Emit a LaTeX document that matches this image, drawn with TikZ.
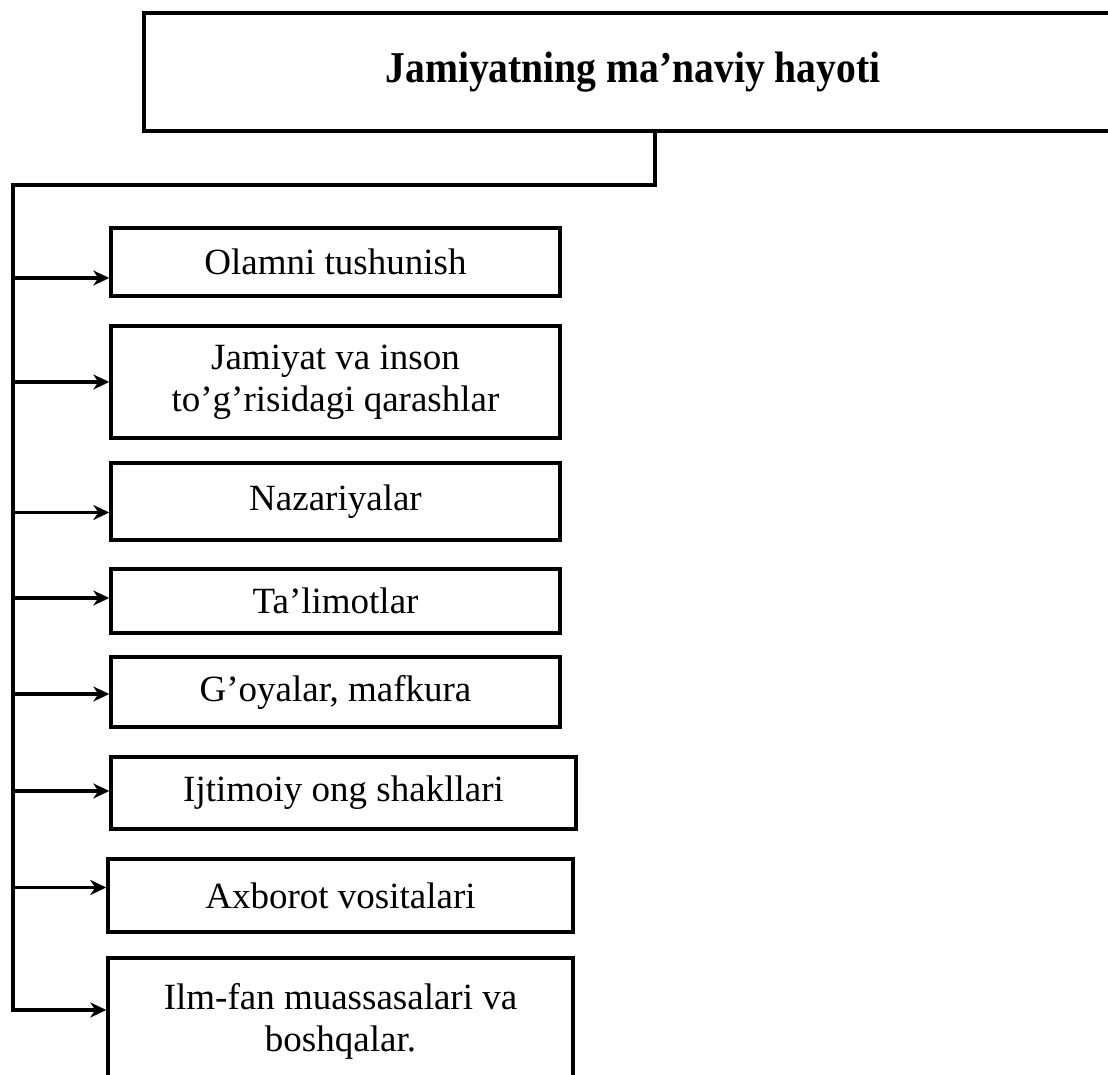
\documentclass[tikz,border=0pt]{standalone}
\usepackage{fontspec}
\setmainfont{Liberation Serif}
\newfontfamily\headfont[FakeStretch=0.9]{Liberation Serif}
\usetikzlibrary{positioning, arrows.meta, calc}

\begin{document}
\begin{tikzpicture}[
  item/.style={draw, line width=3.4pt, outer sep=0pt, minimum width=449pt, align=center,
               inner sep=4pt, font=\fontsize{37}{42}\selectfont},
  head/.style={draw, line width=3.4pt, outer sep=0pt, minimum width=978pt, minimum height=118pt,
               font=\headfont\fontsize{44}{50}\selectfont\bfseries},
  ln/.style={line width=3.4pt, line cap=rect},
  ar/.style={line width=3.4pt, shorten >=1.7pt, -{Stealth[length=16pt, width=15pt, inset=5pt]}},
]
  \useasboundingbox (0,0) rectangle (1108pt,-1075pt);

  \node[head, anchor=north west] (title) at (144pt,-13pt) {Jamiyatning ma’naviy hayoti};

  \node[item, minimum height=68pt, anchor=north west] (olam) at (111pt,-228pt) {Olamni tushunish};
  \node[item, minimum height=112pt, below=30pt of olam.south west, anchor=north west] (qarash)
    {Jamiyat va inson\\to’g’risidagi qarashlar};
  \node[item, minimum height=77pt, below=25pt of qarash.south west, anchor=north west] (nazar) {Nazariyalar};
  \node[item, minimum height=64pt, below=29pt of nazar.south west, anchor=north west] (talim) {Ta’limotlar};
  \node[item, minimum height=70pt, below=24pt of talim.south west, anchor=north west] (goya) {G’oyalar, mafkura};
  \node[item, minimum height=72pt, minimum width=465pt, below=30pt of goya.south west, anchor=north west] (ong)
    {Ijtimoiy ong shakllari};
  \node[item, minimum height=73pt, minimum width=465pt, below=30pt of ong.south west, anchor=north west,
        xshift=-3pt] (axborot) {Axborot vositalari};
  \node[item, minimum height=126pt, minimum width=465pt, below=26pt of axborot.south west, anchor=north west] (ilm)
    {Ilm-fan muassasalari va\\boshqalar.};

  % trunk from the title down the left side
  \coordinate (stem) at (655pt,-185pt);
  \coordinate (corner) at (13pt,-185pt);
  \draw[ln] (title.south -| stem) -- (stem) -- (corner) -- ($(corner |- ilm.west)+(0,11pt)$);

  \foreach \n/\dy in {olam/-16, qarash/0, nazar/-11, talim/3, goya/-2, ong/2, axborot/8, ilm/11}
    \draw[ar] ($(corner |- \n.west)+(0,\dy pt)$) -- ($(\n.west)+(0,\dy pt)$);
\end{tikzpicture}
\end{document}
